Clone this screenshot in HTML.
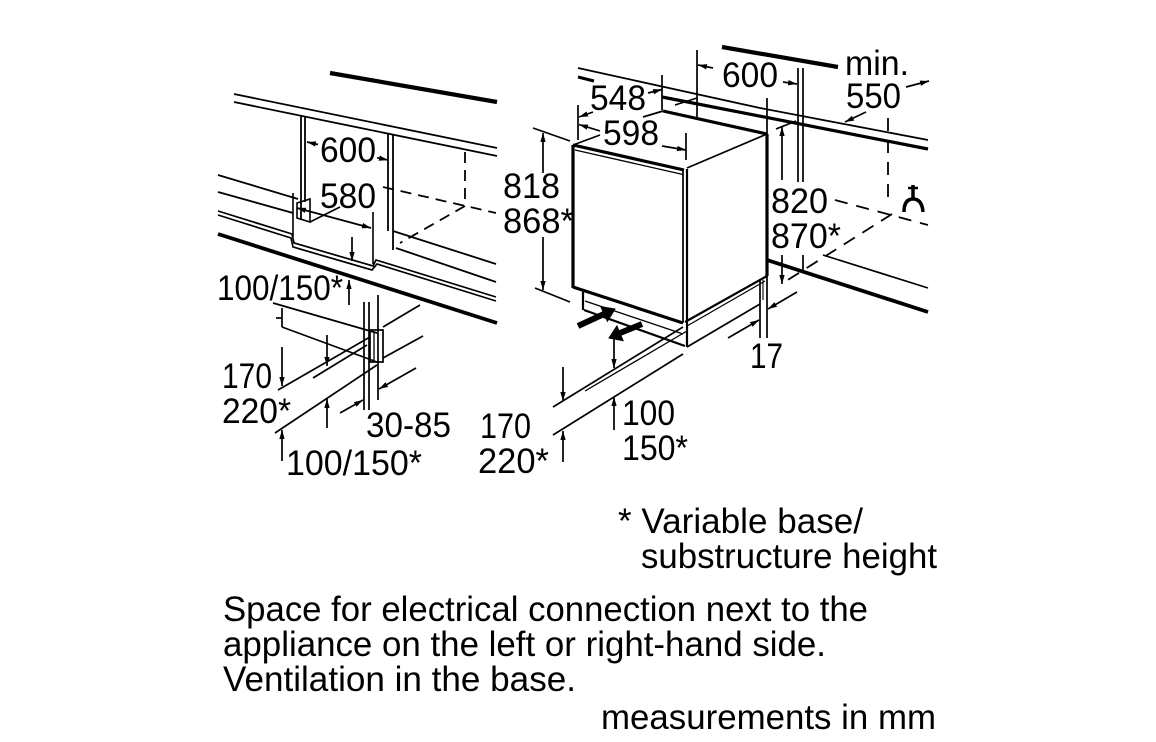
<!DOCTYPE html>
<html>
<head>
<meta charset="utf-8">
<style>
  html,body{margin:0;padding:0;background:#fff;}
  svg{display:block;}
  text{font-family:"Liberation Sans", Arial, sans-serif; font-size:35px; fill:#000;}
</style>
</head>
<body>
<svg width="1156" height="742" viewBox="0 0 1156 742" xmlns="http://www.w3.org/2000/svg">
<defs>
  <marker id="a" viewBox="0 0 10 6" refX="10" refY="3" markerWidth="9" markerHeight="5.4" markerUnits="userSpaceOnUse" orient="auto-start-reverse">
    <path d="M0,0 L10,3 L0,6 z" fill="#000"/>
  </marker>
</defs>
<rect width="1156" height="742" fill="#fff"/>

<g stroke="#000" fill="none" stroke-linecap="butt">
  <!-- ================= LEFT DIAGRAM ================= -->
  <line x1="330" y1="73" x2="497" y2="102" stroke-width="4.2"/>
  <line x1="234" y1="94" x2="497" y2="148" stroke-width="1.8"/>
  <line x1="234" y1="102" x2="497" y2="156" stroke-width="1.8"/>
  <!-- left cabinet side -->
  <line x1="301" y1="115" x2="301" y2="220" stroke-width="1.8"/>
  <line x1="305" y1="116" x2="305" y2="202" stroke-width="1.8"/>
  <polygon points="297,203 310,199 310,222 297,218" stroke-width="1.6"/>
  <line x1="218" y1="175" x2="298" y2="199" stroke-width="1.8"/>
  <line x1="218" y1="192" x2="293" y2="213" stroke-width="1.8"/>
  <line x1="310" y1="222" x2="340" y2="207" stroke-width="1.6"/>
  <!-- 580 extension lines -->
  <line x1="293" y1="193" x2="293" y2="237" stroke-width="1.6"/>
  <line x1="373" y1="212" x2="373" y2="264" stroke-width="1.6"/>
  <!-- right cabinet side -->
  <line x1="388" y1="133" x2="388" y2="231" stroke-width="1.8"/>
  <line x1="393" y1="134" x2="393" y2="250" stroke-width="1.8"/>
  <line x1="393" y1="231" x2="496" y2="264" stroke-width="1.8"/>
  <line x1="396" y1="248" x2="496" y2="282" stroke-width="1.8"/>
  <!-- dashed -->
  <line x1="383" y1="187" x2="496" y2="213" stroke-width="1.8" stroke-dasharray="11 7"/>
  <line x1="465" y1="152" x2="465" y2="206" stroke-width="1.8" stroke-dasharray="11 7"/>
  <line x1="465" y1="206" x2="400" y2="243" stroke-width="1.8" stroke-dasharray="11 7"/>
  <!-- stepped plinth line -->
  <polyline points="218,211 292,234 294,243 373,266 376,260 496,297" stroke-width="1.7"/>
  <polyline points="218,215 291,238 293,247 372,270 377,264 496,301" stroke-width="1.7"/>
  <!-- thick floor line -->
  <line x1="218" y1="234" x2="497" y2="323" stroke-width="3.8"/>

  <!-- left bottom detail -->
  <line x1="273" y1="303" x2="377" y2="333" stroke-width="1.7"/>
  <line x1="282" y1="308" x2="282" y2="327" stroke-width="1.7"/>
  <line x1="276" y1="318" x2="282" y2="318" stroke-width="1.7"/>
  <line x1="282" y1="327" x2="377" y2="362" stroke-width="1.7"/>
  <line x1="364" y1="302" x2="364" y2="410" stroke-width="1.7"/>
  <line x1="369" y1="302" x2="369" y2="410" stroke-width="1.7"/>
  <line x1="378" y1="295" x2="378" y2="400" stroke-width="1.7"/>
  <rect x="370" y="330" width="13" height="32" stroke-width="1.7"/>
  <line x1="374" y1="332" x2="374" y2="360" stroke-width="1.3"/>
  <line x1="383" y1="327" x2="420" y2="305" stroke-width="1.7"/>
  <line x1="383" y1="358" x2="423" y2="336" stroke-width="1.7"/>
  <line x1="278" y1="390" x2="370" y2="337" stroke-width="1.7"/>
  <line x1="313" y1="378" x2="367" y2="345" stroke-width="1.7"/>
  <line x1="275" y1="433" x2="377" y2="365" stroke-width="1.7"/>

  <!-- left arrows -->
  <g stroke-width="1.7" marker-end="url(#a)">
    <line x1="318" y1="144.5" x2="307" y2="142"/>
    <line x1="377" y1="157.7" x2="388" y2="160"/>
    <line x1="352" y1="237" x2="352" y2="261"/>
    <line x1="349" y1="305" x2="349" y2="280"/>
    <line x1="282" y1="347" x2="282" y2="386"/>
    <line x1="327" y1="335" x2="327" y2="366"/>
    <line x1="327" y1="428" x2="327" y2="399"/>
    <line x1="282" y1="461" x2="282" y2="430"/>
    <line x1="340" y1="413" x2="363" y2="400"/>
    <line x1="416" y1="368" x2="379" y2="389"/>
  </g>
  <line x1="297" y1="208" x2="371" y2="228" stroke-width="1.7" marker-start="url(#a)" marker-end="url(#a)"/>

  <!-- ================= CENTER APPLIANCE ================= -->
  <!-- top lines -->
  <line x1="722" y1="47" x2="838" y2="67" stroke-width="4.2"/>
  <polyline points="578,68 760,108 928,140" stroke-width="1.8"/>
  <line x1="578" y1="77" x2="594" y2="81" stroke-width="3"/>
  <line x1="662" y1="97" x2="928" y2="149" stroke-width="3.2"/>

  <!-- door -->
  <line x1="573" y1="145" x2="573" y2="288" stroke-width="3.2"/>
  <line x1="573" y1="145" x2="684" y2="170" stroke-width="3.2"/>
  <line x1="575" y1="150" x2="683" y2="174.5" stroke-width="1.3"/>
  <line x1="683" y1="171" x2="683" y2="323" stroke-width="1.7"/>
  <line x1="687" y1="169" x2="687" y2="347" stroke-width="2.2"/>
  <line x1="573" y1="287" x2="683" y2="323" stroke-width="3.2"/>
  <!-- top face -->
  <line x1="573" y1="145" x2="600" y2="135" stroke-width="1.7"/>
  <line x1="643" y1="117" x2="663" y2="111" stroke-width="1.7"/>
  <line x1="663" y1="111" x2="767" y2="134" stroke-width="3.2"/>
  <line x1="687" y1="168" x2="767" y2="134" stroke-width="1.7"/>
  <line x1="767" y1="134" x2="767" y2="276" stroke-width="3.2"/>
  <line x1="767" y1="276" x2="685" y2="322" stroke-width="2.2"/>
  <line x1="765" y1="281" x2="687" y2="326" stroke-width="1.2"/>
  <!-- plinth -->
  <line x1="583" y1="292" x2="583" y2="310" stroke-width="2.2"/>
  <line x1="584" y1="310" x2="685" y2="346" stroke-width="2.2"/>
  <line x1="585" y1="301" x2="683" y2="334" stroke-width="1.3"/>
  <line x1="687" y1="347" x2="760" y2="304" stroke-width="1.7"/>
  <line x1="760" y1="279" x2="760" y2="338" stroke-width="1.7"/>
  <line x1="763" y1="280" x2="763" y2="300" stroke-width="1.1"/>
  <line x1="767" y1="276" x2="767" y2="338" stroke-width="1.7"/>
  <!-- vent arrows -->
  <line x1="578" y1="326" x2="604" y2="314" stroke-width="6"/>
  <polygon points="615,309 607.4,321.3 600.8,306.7" fill="#000" stroke-width="1"/>
  <line x1="642" y1="324" x2="620" y2="333" stroke-width="6"/>
  <polygon points="609,338 623.1,340.7 616.9,325.9" fill="#000" stroke-width="1"/>
  <!-- floor lines -->
  <line x1="553" y1="407" x2="683" y2="327" stroke-width="1.7"/>
  <line x1="585" y1="391" x2="687" y2="331" stroke-width="1.3"/>
  <line x1="553" y1="435" x2="683" y2="354" stroke-width="1.7"/>
  <!-- extension lines -->
  <line x1="697" y1="50" x2="697" y2="117" stroke-width="1.7"/>
  <line x1="662" y1="75" x2="662" y2="110" stroke-width="1.7"/>
  <line x1="578" y1="105" x2="578" y2="140" stroke-width="1.7"/>
  <line x1="686" y1="133" x2="686" y2="160" stroke-width="1.7"/>
  <line x1="767" y1="98" x2="767" y2="134" stroke-width="1.7"/>
  <line x1="675" y1="105" x2="697" y2="98" stroke-width="1.7"/>
  <line x1="533" y1="128" x2="570" y2="141" stroke-width="1.7"/>
  <line x1="535" y1="288" x2="570" y2="302" stroke-width="1.7"/>
  <!-- center arrows -->
  <g stroke-width="1.7" marker-end="url(#a)">
    <line x1="543" y1="173" x2="543" y2="133"/>
    <line x1="543" y1="237" x2="543" y2="290"/>
    <line x1="563" y1="367" x2="563" y2="401"/>
    <line x1="563" y1="462" x2="563" y2="431"/>
    <line x1="614" y1="338" x2="614" y2="368"/>
    <line x1="614" y1="430" x2="614" y2="397"/>
    <line x1="728" y1="338" x2="759" y2="320"/>
    <line x1="797" y1="292" x2="768" y2="309"/>
    <line x1="593" y1="112" x2="579" y2="117"/>
    <line x1="648" y1="93" x2="662" y2="89.5"/>
    <line x1="600" y1="131" x2="579" y2="124.5"/>
    <line x1="662" y1="146" x2="686" y2="150"/>
    <line x1="713" y1="68" x2="698" y2="65"/>
    <line x1="783" y1="82" x2="797" y2="84"/>
    <line x1="782" y1="180" x2="782" y2="127"/>
    <line x1="782" y1="255" x2="782" y2="284"/>
    <line x1="866" y1="112" x2="845" y2="122"/>
    <line x1="906" y1="87" x2="929" y2="81"/>
  </g>

  <!-- ================= RIGHT ================= -->
  <line x1="798" y1="68" x2="798" y2="182" stroke-width="1.7"/>
  <line x1="803" y1="68" x2="803" y2="182" stroke-width="1.7"/>
  <line x1="776" y1="129" x2="796" y2="121" stroke-width="1.7"/>
  <line x1="803" y1="255" x2="803" y2="270" stroke-width="1.7"/>
  <line x1="835" y1="200" x2="928" y2="225" stroke-width="1.8" stroke-dasharray="13 9"/>
  <line x1="888" y1="118" x2="888" y2="203" stroke-width="1.8" stroke-dasharray="13 9"/>
  <line x1="892" y1="214" x2="783" y2="283" stroke-width="1.8" stroke-dasharray="13 9"/>
  <line x1="767" y1="260" x2="928" y2="312" stroke-width="3.8"/>
  <line x1="823" y1="255" x2="928" y2="288" stroke-width="1.7"/>
  <!-- tap -->
  <line x1="913" y1="185" x2="913" y2="199" stroke-width="3.5"/>
  <line x1="908" y1="188" x2="918" y2="188" stroke-width="2.5"/>
  <path d="M904,212 Q904,199 913,199 Q922,199 923,212" stroke-width="3.5"/>
</g>

<!-- ================= LABELS ================= -->
<g>
  <text x="320" y="162" textLength="56" lengthAdjust="spacingAndGlyphs">600</text>
  <text x="320" y="208" textLength="56" lengthAdjust="spacingAndGlyphs">580</text>
  <text x="217" y="300" textLength="126" lengthAdjust="spacingAndGlyphs">100/150*</text>
  <text x="222" y="388" textLength="50" lengthAdjust="spacingAndGlyphs">170</text>
  <text x="222" y="423" textLength="69" lengthAdjust="spacingAndGlyphs">220*</text>
  <text x="366" y="437" textLength="85" lengthAdjust="spacingAndGlyphs">30-85</text>
  <text x="286" y="475" textLength="136" lengthAdjust="spacingAndGlyphs">100/150*</text>
  <text x="480" y="438" textLength="51" lengthAdjust="spacingAndGlyphs">170</text>
  <text x="478" y="473" textLength="71" lengthAdjust="spacingAndGlyphs">220*</text>
  <text x="622" y="425" textLength="53" lengthAdjust="spacingAndGlyphs">100</text>
  <text x="622" y="460" textLength="66" lengthAdjust="spacingAndGlyphs">150*</text>
  <text x="750" y="368" textLength="33" lengthAdjust="spacingAndGlyphs">17</text>
  <text x="503" y="198" textLength="57" lengthAdjust="spacingAndGlyphs">818</text>
  <text x="503" y="233" textLength="71" lengthAdjust="spacingAndGlyphs">868*</text>
  <text x="590" y="110" textLength="56" lengthAdjust="spacingAndGlyphs">548</text>
  <text x="603" y="145" textLength="56" lengthAdjust="spacingAndGlyphs">598</text>
  <text x="722" y="87" textLength="56" lengthAdjust="spacingAndGlyphs">600</text>
  <text x="845" y="75" textLength="64" lengthAdjust="spacingAndGlyphs">min.</text>
  <text x="846" y="108" textLength="55" lengthAdjust="spacingAndGlyphs">550</text>
  <text x="771" y="213" textLength="57" lengthAdjust="spacingAndGlyphs">820</text>
  <text x="771" y="248" textLength="70" lengthAdjust="spacingAndGlyphs">870*</text>

  <text x="618" y="533" textLength="245" lengthAdjust="spacingAndGlyphs">* Variable base/</text>
  <text x="641" y="568" textLength="296" lengthAdjust="spacingAndGlyphs">substructure height</text>
  <text x="223" y="621" textLength="645" lengthAdjust="spacingAndGlyphs">Space for electrical connection next to the</text>
  <text x="223" y="656" textLength="603" lengthAdjust="spacingAndGlyphs">appliance on the left or right-hand side.</text>
  <text x="223" y="691" textLength="353" lengthAdjust="spacingAndGlyphs">Ventilation in the base.</text>
  <text x="601" y="729" textLength="335" lengthAdjust="spacingAndGlyphs">measurements in mm</text>
</g>
</svg>
</body>
</html>
